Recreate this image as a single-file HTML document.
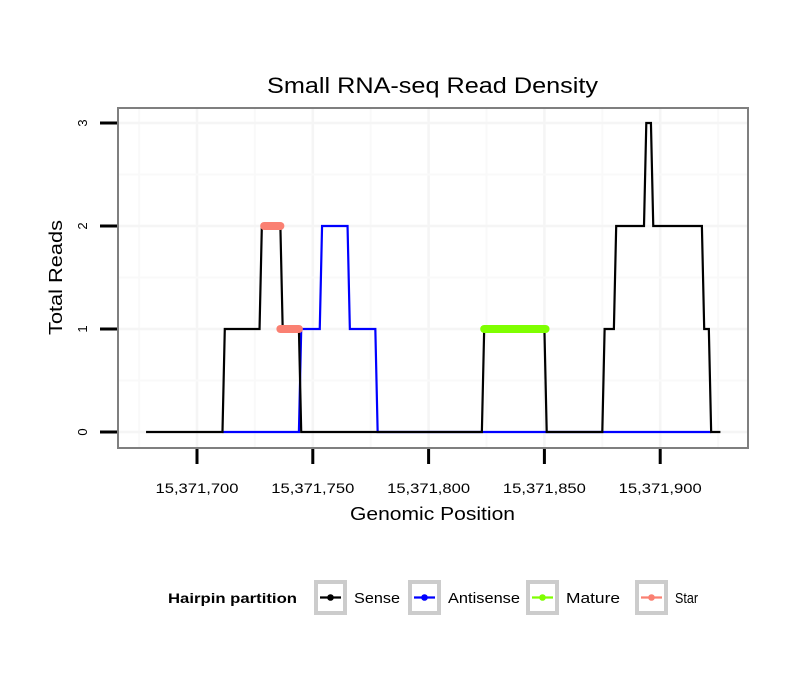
<!DOCTYPE html>
<html><head><meta charset="utf-8"><style>
body{margin:0;background:#fff;font-family:"Liberation Sans",sans-serif}
</style></head><body>
<svg id="chart" width="810" height="690" xmlns="http://www.w3.org/2000/svg" font-family="Liberation Sans, sans-serif">
<rect width="810" height="690" fill="#fff"/>
<text x="267" y="93" font-size="22" textLength="331" lengthAdjust="spacingAndGlyphs">Small RNA-seq Read Density</text>
<g id="grid"></g>
<g id="series"></g>
<rect x="118" y="108" width="630" height="340" fill="none" stroke="#7f7f7f" stroke-width="2"/>
<g id="axes"></g>
<text x="350" y="520" font-size="18" textLength="165" lengthAdjust="spacingAndGlyphs">Genomic Position</text>
<text transform="translate(62,335) rotate(-90)" font-size="18" textLength="115" lengthAdjust="spacingAndGlyphs">Total Reads</text>
<g>
<text x="168" y="603" font-size="14" font-weight="bold" textLength="129" lengthAdjust="spacingAndGlyphs">Hairpin partition</text>
<g id="legend"></g>
</g>
</svg>
<script>
const xTicks=[15371700,15371750,15371800,15371850,15371900];
const xTickLabels=["15,371,700","15,371,750","15,371,800","15,371,850","15,371,900"];
const yTicks=[0,1,2,3];
const sensePos=[15371678,15371711,15371712,15371727,15371728,15371736,15371737,15371744,15371745,15371823,15371824,15371850,15371851,15371875,15371876,15371880,15371881,15371893,15371894,15371896,15371897,15371918,15371919,15371921,15371922,15371926];
const senseVal=[0,0,1,1,2,2,1,1,0,0,1,1,0,0,1,1,2,2,3,3,2,2,1,1,0,0];
const antiPos=[15371711,15371744,15371745,15371753,15371754,15371765,15371766,15371777,15371778,15371823,15371922];
const antiVal=[0,0,1,1,2,2,1,1,0,0,0];
const maturePos=[15371824,15371850.5];const matureVal=[1,1];
const starPos1=[15371729,15371736];const starVal1=[2,2];
const starPos2=[15371736,15371744];const starVal2=[1,1];
const legendLabels=["Sense","Antisense","Mature","Star"];
const legendWidths=[46,72,54,23];
const legendColors=["#000000","#0000ff","#7fff00","#fa8072"];

const NS="http://www.w3.org/2000/svg";
const X=p=>197+(p-15371700)*2.316;
const Y=v=>432-v*103;
function mk(tag,attrs,parent){const e=document.createElementNS(NS,tag);for(const k in attrs)e.setAttribute(k,attrs[k]);parent.appendChild(e);return e;}
const grid=document.getElementById('grid'),series=document.getElementById('series'),axes=document.getElementById('axes'),legend=document.getElementById('legend');
for(let i=0;i<xTicks.length;i++){
  const l=mk('line',{x1:X(xTicks[i]),x2:X(xTicks[i]),y1:109,y2:447,stroke:'#f5f5f5','stroke-width':2.5},grid);
  
  
  if(i<xTicks.length-1){const xm=X((xTicks[i]+xTicks[i+1])/2);const m=mk('line',{x1:xm,x2:xm,y1:109,y2:447,stroke:'#f9f9f9','stroke-width':2},grid);
  
  }
  const t=mk('line',{x1:X(xTicks[i]),x2:X(xTicks[i]),y1:449,y2:464,stroke:'#000','stroke-width':3},axes);
  
  
  const tx=mk('text',{x:X(xTicks[i])-41.5,y:493,'font-size':14,textLength:83,lengthAdjust:'spacingAndGlyphs'},axes);tx.textContent=xTickLabels[i];
  
  
}
for(const x of [X(15371675),X(15371925)]){const m=mk('line',{x1:x,x2:x,y1:109,y2:447,stroke:'#f9f9f9','stroke-width':2},grid);
  
  }
for(let i=0;i<yTicks.length;i++){
  const y=Y(yTicks[i]);
  const l=mk('line',{x1:119,x2:747,y1:y,y2:y,stroke:'#f5f5f5','stroke-width':2.5},grid);
  
  
  if(i<yTicks.length-1){const ym=Y(yTicks[i]+0.5);const m=mk('line',{x1:119,x2:747,y1:ym,y2:ym,stroke:'#f9f9f9','stroke-width':2},grid);
  
  }
  const t=mk('line',{x1:100,x2:117,y1:y,y2:y,stroke:'#000','stroke-width':3},axes);
  
  
  const tx=mk('text',{transform:`translate(87,${y}) rotate(-90)`,'font-size':13,'text-anchor':'middle'},axes);tx.textContent=yTicks[i];
  
  
}
function pts(P,V){return P.map((p,i)=>X(p)+','+Y(V[i])).join(' ');}
const a=mk('polyline',{points:pts(antiPos,antiVal),fill:'none',stroke:'#0000ff','stroke-width':2.2},series);


const s=mk('polyline',{points:pts(sensePos,senseVal),fill:'none',stroke:'#000','stroke-width':2.2},series);


const mt=mk('polyline',{points:pts(maturePos,matureVal),fill:'none',stroke:'#7fff00','stroke-width':8,'stroke-linecap':'round'},series);


const s1=mk('polyline',{points:pts(starPos1,starVal1),fill:'none',stroke:'#fa8072','stroke-width':8,'stroke-linecap':'round'},series);


const s2=mk('polyline',{points:pts(starPos2,starVal2),fill:'none',stroke:'#fa8072','stroke-width':8,'stroke-linecap':'round'},series);


const lx=[314,408,526,635];
for(let i=0;i<legendLabels.length;i++){
  const g=mk('g',{},legend);
  
  
  mk('rect',{x:lx[i]+2,y:582,width:29,height:31,fill:'#fff',stroke:'#cccccc','stroke-width':4},g);
  mk('line',{x1:lx[i]+6,x2:lx[i]+27,y1:597.5,y2:597.5,stroke:legendColors[i],'stroke-width':2.2},g);
  mk('circle',{cx:lx[i]+16.5,cy:597.5,r:3.3,fill:legendColors[i]},g);
  const t=mk('text',{x:lx[i]+40,y:603,'font-size':15,textLength:legendWidths[i],lengthAdjust:'spacingAndGlyphs'},g);t.textContent=legendLabels[i];
}
</script>
</body></html>
